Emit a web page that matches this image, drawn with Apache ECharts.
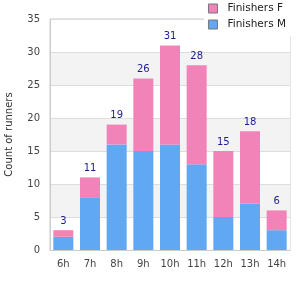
<!DOCTYPE html>
<html>
<head>
<meta charset="utf-8">
<script src="https://cdn.jsdelivr.net/npm/echarts@6/dist/echarts.min.js"></script>
<style>
  html, body { margin: 0; padding: 0; background: #fff; }
  #chart { width: 300px; height: 300px; }
</style>
</head>
<body>
<div id="chart"></div>
<script>
const hours = ["6h", "7h", "8h", "9h", "10h", "11h", "12h", "13h", "14h"];
const finishersM = [2, 8, 16, 15, 16, 13, 5, 7, 3];
const finishersF = [1, 3, 3, 11, 15, 15, 10, 11, 3];

const totals = finishersM.map((m, i) => m + finishersF[i]);
const font = "DejaVu Sans";

const chart = echarts.init(document.getElementById("chart"));

chart.setOption({
  animation: false,
  textStyle: { fontFamily: font },
  grid: {
    left: 50, right: 10, top: 19, bottom: 50,
    outerBoundsMode: "none",
    show: true, borderColor: "#ccc", borderWidth: 1
  },
  legend: {
    orient: "vertical",
    right: 8, top: 1,
    itemWidth: 9, itemHeight: 9, itemGap: 5,
    backgroundColor: "#fff",
    padding: [2, 6, 6, 4],
    textStyle: { fontFamily: font, fontSize: 10.5, color: "#222", padding: [0, 0, 0, 5] },
    data: [
      { name: "Finishers F", icon: "rect", itemStyle: { borderColor: "#777", borderWidth: 1 } },
      { name: "Finishers M", icon: "rect", itemStyle: { borderColor: "#777", borderWidth: 1 } }
    ]
  },
  xAxis: {
    type: "category",
    data: hours,
    axisLine: { lineStyle: { color: "#ccc" } },
    axisTick: { show: false },
    axisLabel: { color: "#444", fontSize: 10, margin: 9, interval: 0 }
  },
  yAxis: {
    type: "value",
    min: 0, max: 35, interval: 5,
    name: "Count of runners",
    nameLocation: "middle",
    nameGap: 36,
    nameTextStyle: { color: "#333", fontSize: 10 },
    axisLine: { show: true, lineStyle: { color: "#ccc" } },
    axisLabel: { color: "#444", fontSize: 10, margin: 10 },
    splitLine: { lineStyle: { color: "#ddd" } },
    splitArea: { show: true, areaStyle: { color: ["#fff", "#f3f3f3"] } }
  },
  series: [
    {
      name: "Finishers M",
      type: "bar",
      stack: "all",
      barWidth: "75%",
      itemStyle: { color: "#60a8f2" },
      data: finishersM
    },
    {
      name: "Finishers F",
      type: "bar",
      stack: "all",
      itemStyle: { color: "#f283b9" },
      label: {
        show: true,
        position: "top",
        distance: 4,
        color: "#1c1c8c",
        fontSize: 10,
        formatter: (p) => totals[p.dataIndex]
      },
      data: finishersF
    }
  ]
});
</script>
</body>
</html>
